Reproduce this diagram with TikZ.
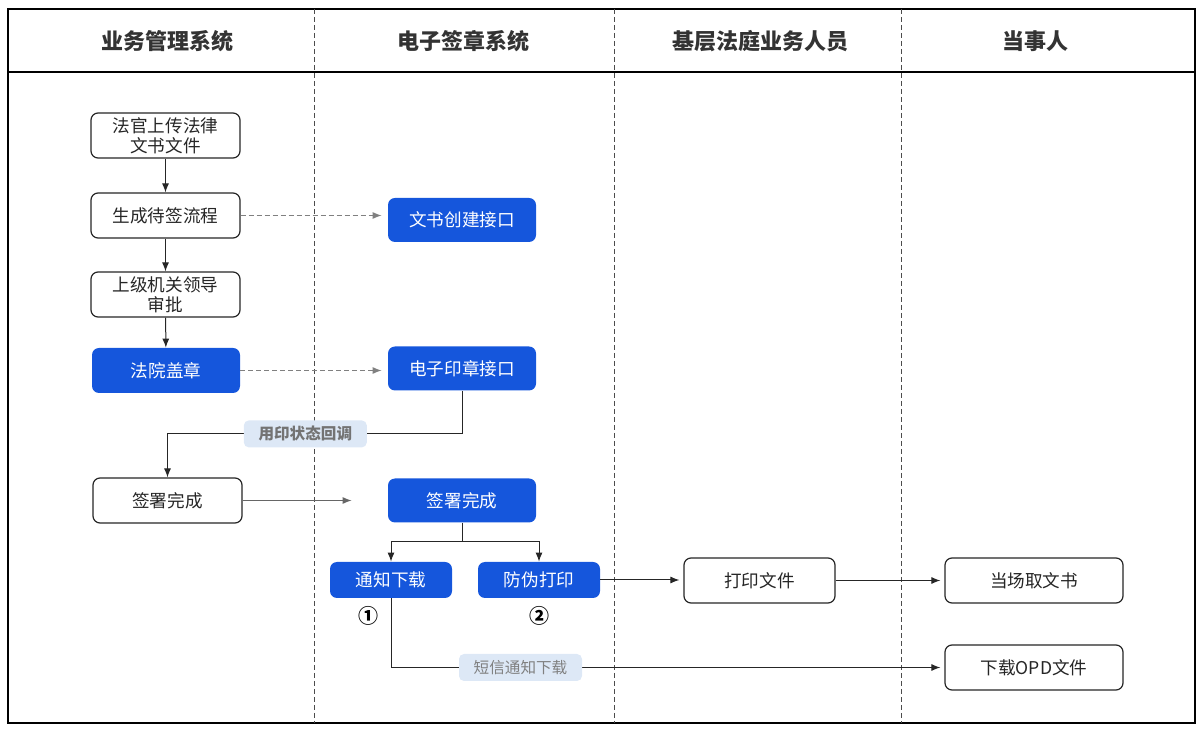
\documentclass[tikz,border=0pt]{standalone}
\usepackage{fontspec}
\setmainfont{Noto Sans CJK SC}
\usetikzlibrary{arrows.meta}

\definecolor{sealblue}{HTML}{1556DC}
\definecolor{tagblue}{HTML}{DDE8F6}
\definecolor{headgray}{HTML}{333333}

\begin{document}
\begin{tikzpicture}[x=0.5pt,y=-0.5pt,
    lane/.style={draw=black!70,dash pattern=on 2.5pt off 1.5pt,line width=0.4pt},
    head/.style={font=\fontsize{11}{13}\selectfont\bfseries,text=headgray},
    whitebox/.style={draw=black!85,line width=0.6pt,rounded corners=3.5pt,fill=white,
        minimum width=74.5pt,minimum height=22.5pt,inner sep=1pt,align=center,
        text=black!85,font=\fontsize{8.8}{10}\selectfont},
    bluebox/.style={fill=sealblue,rounded corners=3.5pt,minimum width=74pt,
        minimum height=22pt,inner sep=1pt,align=center,text=white,
        font=\fontsize{8.8}{10}\selectfont},
    smallblue/.style={bluebox,minimum width=61pt,minimum height=18pt},
    tag/.style={fill=tagblue,rounded corners=2.5pt,minimum width=61.5pt,
        minimum height=13.5pt,inner sep=1pt,font=\fontsize{7.8}{9}\selectfont},
    flow/.style={draw=black!85,line width=0.5pt,-{Latex[length=4.5pt,width=3.5pt]}},
    call/.style={draw=black!50,line width=0.5pt,dash pattern=on 2.5pt off 1.5pt,
        -{Latex[length=4.5pt,width=3.5pt]}},
    stepno/.style={font=\fontsize{10}{11}\selectfont\bfseries}]

    % frame and lanes
    \useasboundingbox (0,0) rectangle (1200,731);
    \draw[line width=0.7pt] (8,9) rectangle (1195,723);
    \draw[line width=0.7pt] (8,72) -- (1195,72);
    \draw[lane] (314,9) -- (314,723);
    \draw[lane] (614,9) -- (614,723);
    \draw[lane] (901,9) -- (901,723);

    \node[head] (h1) at (167,41) {业务管理系统};
    \node[head] (h2) at (463,41) {电子签章系统};
    \node[head] (h3) at (760,41) {基层法庭业务人员};
    \node[head] (h4) at (1035,41) {当事人};

    % business system
    \node[whitebox] (upload) at (165.5,135.5) {法官上传法律\\文书文件};
    \node[whitebox] (flowgen) at (165.5,215.5) {生成待签流程};
    \node[whitebox] (approve) at (165.5,294.5) {上级机关领导\\审批};
    \node[bluebox,minimum width=74pt,minimum height=22.5pt] (courtseal) at (166,370.5) {法院盖章};
    \node[whitebox] (signdone) at (167.5,500.5) {签署完成};

    % e-sign system
    \node[bluebox] (docapi) at (462,220) {文书创建接口};
    \node[bluebox] (sealapi) at (462,368.5) {电子印章接口};
    \node[bluebox] (esigndone) at (462,500.5) {签署完成};
    \node[smallblue] (notify) at (391,580) {通知下载};
    \node[smallblue] (antifake) at (539,580) {防伪打印};
    \node[stepno] (s1) at (368,616) {①};
    \node[stepno] (s2) at (539,616) {②};

    % court staff and parties
    \node[whitebox,minimum width=75.5pt] (print) at (759.5,580.5) {打印文件};
    \node[whitebox,minimum width=89pt] (takedoc) at (1034,580.5) {当场取文书};
    \node[whitebox,minimum width=89pt] (download) at (1034,667.5) {下载OPD文件};

    % connectors
    \draw[flow] (upload) -- (flowgen);
    \draw[flow] (flowgen) -- (approve);
    \draw[flow] (approve) -- (courtseal);
    \draw[call,shorten >=3pt] (flowgen.east) -- (docapi.west |- flowgen.east);
    \draw[call,shorten >=3pt] (courtseal.east) -- (sealapi.west |- courtseal.east);
    \draw[flow] (sealapi.south) -- ++(0,43) -| node[tag,pos=0.266,text=black!55,font=\fontsize{7.8}{9}\selectfont\bfseries] (cb) {用印状态回调} (signdone.north);
    \draw[flow,draw=black!60,shorten >=18pt] (signdone.east) -- (esigndone.west |- signdone.east);
    \draw[flow] (esigndone.south) -- ++(0,19) -| (notify.north);
    \draw[flow] (esigndone.south) -- ++(0,19) -| (antifake.north);
    \draw[flow,shorten >=2pt] (antifake.east) -- (print.west |- antifake.east);
    \draw[flow,shorten >=2pt] (print.east) -- (takedoc.west);
    \draw[flow,shorten >=2pt] (notify.south) |- node[tag,pos=0.617,text=black!50] (sms) {短信通知下载} (download.west);

\end{tikzpicture}
\end{document}
